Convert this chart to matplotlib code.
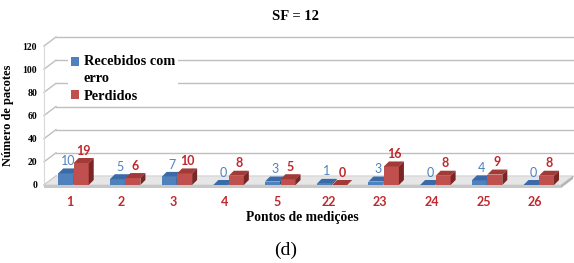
import matplotlib
matplotlib.use("Agg")
import matplotlib.pyplot as plt
from matplotlib.patches import Polygon, Patch
import matplotlib.transforms as mtransforms

categories = ["1", "2", "3", "4", "5", "22", "23", "24", "25", "26"]
recebidos_erro = [10, 5, 7, 0, 3, 1, 3, 0, 4, 0]
perdidos = [19, 6, 10, 8, 5, 0, 16, 8, 9, 8]
yticks = [0, 20, 40, 60, 80, 100, 120]

W, H = 574, 263
fig = plt.figure(figsize=(W / 100, H / 100), dpi=100)
ax_l, ax_r, ax_t, ax_b = 44, 561, 46, 185
ax = fig.add_axes([ax_l / W, 1 - ax_b / H, (ax_r - ax_l) / W, (ax_b - ax_t) / H])
ax.set_xlim(-0.5, len(categories) - 0.5)
ax.set_ylim(0, 120)

px_x = (ax_r - ax_l) / len(categories)   # pixels per x unit
px_y = (ax_b - ax_t) / 120.0              # pixels per y unit

serif = "Liberation Serif"
sans = "Lato"
grid_c = "#BFBFBF"

# back wall gridlines (pseudo-3D offset)
wall_dx, wall_dy = 12, 9
off = mtransforms.ScaledTranslation(wall_dx / 100, wall_dy / 100, fig.dpi_scale_trans)
for y in yticks:
    ax.plot([-0.5, len(categories) - 0.5], [y, y], color=grid_c, lw=1.0,
            transform=ax.transData + off, clip_on=False, zorder=1)
    ax.plot([-0.5, -0.5 + wall_dx / px_x], [y, y + wall_dy / px_y], color=grid_c,
            lw=1.0, clip_on=False, zorder=1)
ax.plot([-0.5, -0.5], [0, 120], color="#D9D9D9", lw=0.8, clip_on=False, zorder=1)

# floor
x0, x1 = -0.5, len(categories) - 0.5
fdx, fdy = wall_dx / px_x, wall_dy / px_y
floor = Polygon([(x0, 0), (x1, 0), (x1 + fdx, fdy), (x0 + fdx, fdy)], closed=True,
                facecolor="#E6E6E6", edgecolor="#CFCFCF", lw=0.6, clip_on=False, zorder=1.5)
ax.add_patch(floor)
slab = Polygon([(x0, 0), (x1, 0), (x1, -3 / px_y), (x0, -3 / px_y)], closed=True,
               facecolor="#C8C8C8", edgecolor="none", clip_on=False, zorder=1.5)
ax.add_patch(slab)
slab2 = Polygon([(x1, 0), (x1 + fdx, fdy), (x1 + fdx, fdy - 3 / px_y), (x1, -3 / px_y)],
                closed=True, facecolor="#B5B5B5", edgecolor="none", clip_on=False, zorder=1.5)
ax.add_patch(slab2)

# bars
bw = 0.29
bdx, bdy = 5 / px_x, 5 / px_y
series = [
    (recebidos_erro, -0.08, "#4F81BD", "#3A6BA8", "#2C4F7C", "#4F81BD", "normal"),
    (perdidos, 0.22, "#C0504D", "#A33A37", "#7A2624", "#C0282D", "bold"),
]
xs = list(range(len(categories)))
for vals, shift, fc, topc, sidec, txtc, wt in series:
    pos = [x + shift for x in xs]
    ax.bar(pos, vals, width=bw, color=fc, edgecolor="none", zorder=3)
    for p, v in zip(pos, vals):
        l, r = p - bw / 2, p + bw / 2
        ax.add_patch(Polygon([(l, v), (r, v), (r + bdx, v + bdy), (l + bdx, v + bdy)],
                             closed=True, facecolor=topc, edgecolor="none", zorder=3))
        ax.add_patch(Polygon([(r, 0), (r + bdx, bdy), (r + bdx, v + bdy), (r, v)],
                             closed=True, facecolor=sidec, edgecolor="none", zorder=3))
        ax.annotate(str(v), (p + bdx / 2, v + bdy), xytext=(0, 1), textcoords="offset points",
                    ha="center", va="bottom", color=txtc, fontsize=9, fontweight=wt,
                    family=sans, zorder=5)

# ticks
ax.set_yticks(yticks)
ax.set_yticklabels([str(t) for t in yticks], family=serif, fontweight="bold", fontsize=7)
ax.set_xticks(xs)
ax.set_xticklabels(categories, family=sans, fontweight="bold", fontsize=9, color="#C0282D")
ax.tick_params(axis="y", length=0, pad=5)
ax.tick_params(axis="x", length=0, pad=8)
for s in ax.spines.values():
    s.set_visible(False)

ax.set_ylabel("Número de pacotes", family=serif, fontweight="bold", fontsize=9, labelpad=6)
ax.set_xlabel("Pontos de medições", family=serif, fontweight="bold", fontsize=9.8, labelpad=2)

fig.text(295 / W, 1 - 17 / H, "SF = 12", family=serif, fontweight="bold", fontsize=10.5,
         ha="center", va="center")
fig.text(286 / W, 1 - 250 / H, "(d)", family=serif, fontsize=14, ha="center", va="center")

handles = [Patch(facecolor="#4F81BD", edgecolor="none"),
           Patch(facecolor="#C0504D", edgecolor="none")]
leg = ax.legend(handles, ["Recebidos com\nerro", "Perdidos"], loc="upper left",
                bbox_to_anchor=((68 - ax_l) / (ax_r - ax_l), (ax_b - 52) / (ax_b - ax_t)),
                prop={"family": serif, "weight": "bold", "size": 10.3},
                handlelength=0.55, handleheight=0.55, handletextpad=0.35, labelspacing=0.3,
                borderpad=0.2, borderaxespad=0, frameon=True, fancybox=False,
                framealpha=1, edgecolor="none", facecolor="white")
leg.get_texts()[0].set_linespacing(1.45)
leg.set_zorder(6)
h0 = leg.legend_handles[0]
h0.set_y(h0.get_y() + 6)

fig.savefig("out.png", dpi=100, facecolor="white")
